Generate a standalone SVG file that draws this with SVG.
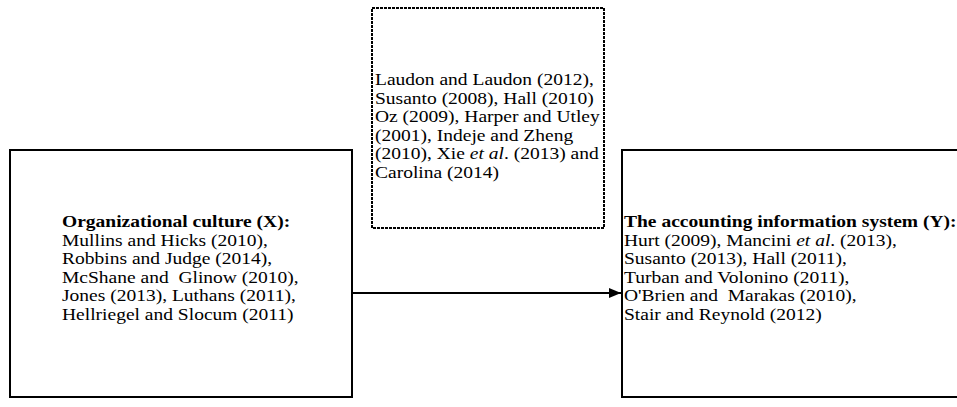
<svg xmlns="http://www.w3.org/2000/svg" width="957" height="407" viewBox="0 0 957 407">
<defs>
<style>
.box{fill:#fff;stroke:#000;stroke-width:2}
.dot{fill:#fff;stroke:#000;stroke-width:2;stroke-dasharray:3 1}
.t{font-family:"Liberation Serif","Times New Roman",serif;font-size:16px;fill:#000}
.b{font-weight:bold}
.i{font-style:italic}
.edge{stroke:#000;stroke-width:2;fill:none}
</style>
<marker id="ah" viewBox="0 0 10 10" refX="10" refY="5" markerWidth="6" markerHeight="5" orient="auto" markerUnits="strokeWidth" preserveAspectRatio="none">
<path d="M0,0 L10,5 L0,10 z" fill="#000"/>
</marker>
</defs>
<rect width="957" height="407" fill="#fff"/>
<g id="node-x">
<rect class="box" x="10" y="150" width="342" height="247"/>
<text class="t" transform="translate(62 0) scale(1.22 1)" x="0" y="227"><tspan class="b">Organizational culture (X):</tspan>
<tspan x="0" dy="18.6">Mullins and Hicks (2010),</tspan>
<tspan x="0" dy="18.6">Robbins and Judge (2014),</tspan>
<tspan x="0" dy="18.6" xml:space="preserve">McShane and  Glinow (2010),</tspan>
<tspan x="0" dy="18.6">Jones (2013), Luthans (2011),</tspan>
<tspan x="0" dy="18.6">Hellriegel and Slocum (2011)</tspan></text>
</g>
<g id="node-mod">
<rect class="dot" x="372" y="8" width="232" height="220"/>
<text class="t" transform="translate(375 0) scale(1.22 1)" x="0" y="85"><tspan>Laudon and Laudon (2012),</tspan>
<tspan x="0" dy="18.6">Susanto (2008), Hall (2010)</tspan>
<tspan x="0" dy="18.6">Oz (2009), Harper and Utley</tspan>
<tspan x="0" dy="18.6">(2001), Indeje and Zheng</tspan>
<tspan x="0" dy="18.6">(2010), Xie <tspan class="i">et al</tspan>. (2013) and</tspan>
<tspan x="0" dy="18.6">Carolina (2014)</tspan></text>
</g>
<g id="node-y">
<rect class="box" x="622" y="150" width="400" height="247"/>
<text class="t" transform="translate(624 0) scale(1.22 1)" x="0" y="227"><tspan class="b">The accounting information system (Y):</tspan>
<tspan x="0" dy="18.6">Hurt (2009), Mancini <tspan class="i">et al</tspan>. (2013),</tspan>
<tspan x="0" dy="18.6">Susanto (2013), Hall (2011),</tspan>
<tspan x="0" dy="18.6">Turban and Volonino (2011),</tspan>
<tspan x="0" dy="18.6" xml:space="preserve">O'Brien and  Marakas (2010),</tspan>
<tspan x="0" dy="18.6">Stair and Reynold (2012)</tspan></text>
</g>
<g id="connectors">
<line class="edge" x1="352" y1="293" x2="621" y2="293" marker-end="url(#ah)"/>
</g>
</svg>
